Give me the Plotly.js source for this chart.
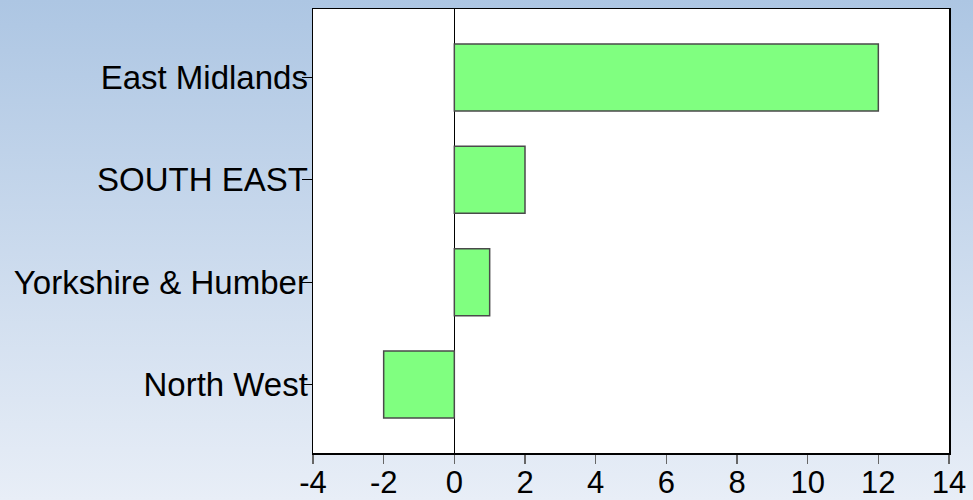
<!DOCTYPE html>
<html>
<head>
<meta charset="utf-8">
<script src="https://cdn.plot.ly/plotly-3.0.1.min.js"></script>
<style>
  html, body { margin: 0; padding: 0; }
  body {
    width: 973px; height: 500px; overflow: hidden;
    background: linear-gradient(to bottom, #adc6e3 0%, #e8eef7 100%);
  }
  #chart { width: 973px; height: 500px; }
</style>
</head>
<body>
<div id="chart"></div>
<script>
// Regions, listed bottom to top as they appear on the category axis
const regions = ["North West", "Yorkshire & Humber", "SOUTH EAST", "East Midlands"];
const values = [-2, 1, 2, 12];
const xTicks = [-4, -2, 0, 2, 4, 6, 8, 10, 12, 14];

const trace = {
  type: "bar",
  orientation: "h",
  x: values,
  y: regions,
  marker: { color: "#80ff80", line: { color: "#4a4a4a", width: 1.5 } },
  width: 0.655,
  hoverinfo: "x+y"
};

const layout = {
  width: 973,
  height: 500,
  margin: { l: 313, r: 24, t: 9, b: 47 },
  paper_bgcolor: "rgba(0,0,0,0)",
  plot_bgcolor: "#ffffff",
  showlegend: false,
  font: { family: "Liberation Sans, Arial, sans-serif", color: "#000000" },
  xaxis: {
    range: [-4, 14],
    tickvals: xTicks,
    ticktext: xTicks.map(String),
    showgrid: false,
    zeroline: true,
    zerolinecolor: "#000000",
    zerolinewidth: 1,
    showline: true,
    linecolor: "#000000",
    linewidth: 1.5,
    mirror: true,
    ticks: "outside",
    ticklen: 9,
    tickcolor: "#666666",
    tickwidth: 1.5,
    ticklabelstandoff: -8,
    tickfont: { size: 31, color: "#000000" }
  },
  yaxis: {
    type: "category",
    categoryorder: "array",
    categoryarray: regions,
    range: [-0.67, 3.67],
    showgrid: false,
    zeroline: false,
    showline: true,
    linecolor: "#000000",
    linewidth: 1.5,
    mirror: true,
    ticks: "outside",
    ticklen: 10,
    tickcolor: "#000000",
    tickwidth: 1,
    ticklabelstandoff: -13,
    tickfont: { size: 33, color: "#000000" }
  }
};

Plotly.newPlot("chart", [trace], layout, { staticPlot: true, displayModeBar: false });
</script>
</body>
</html>
